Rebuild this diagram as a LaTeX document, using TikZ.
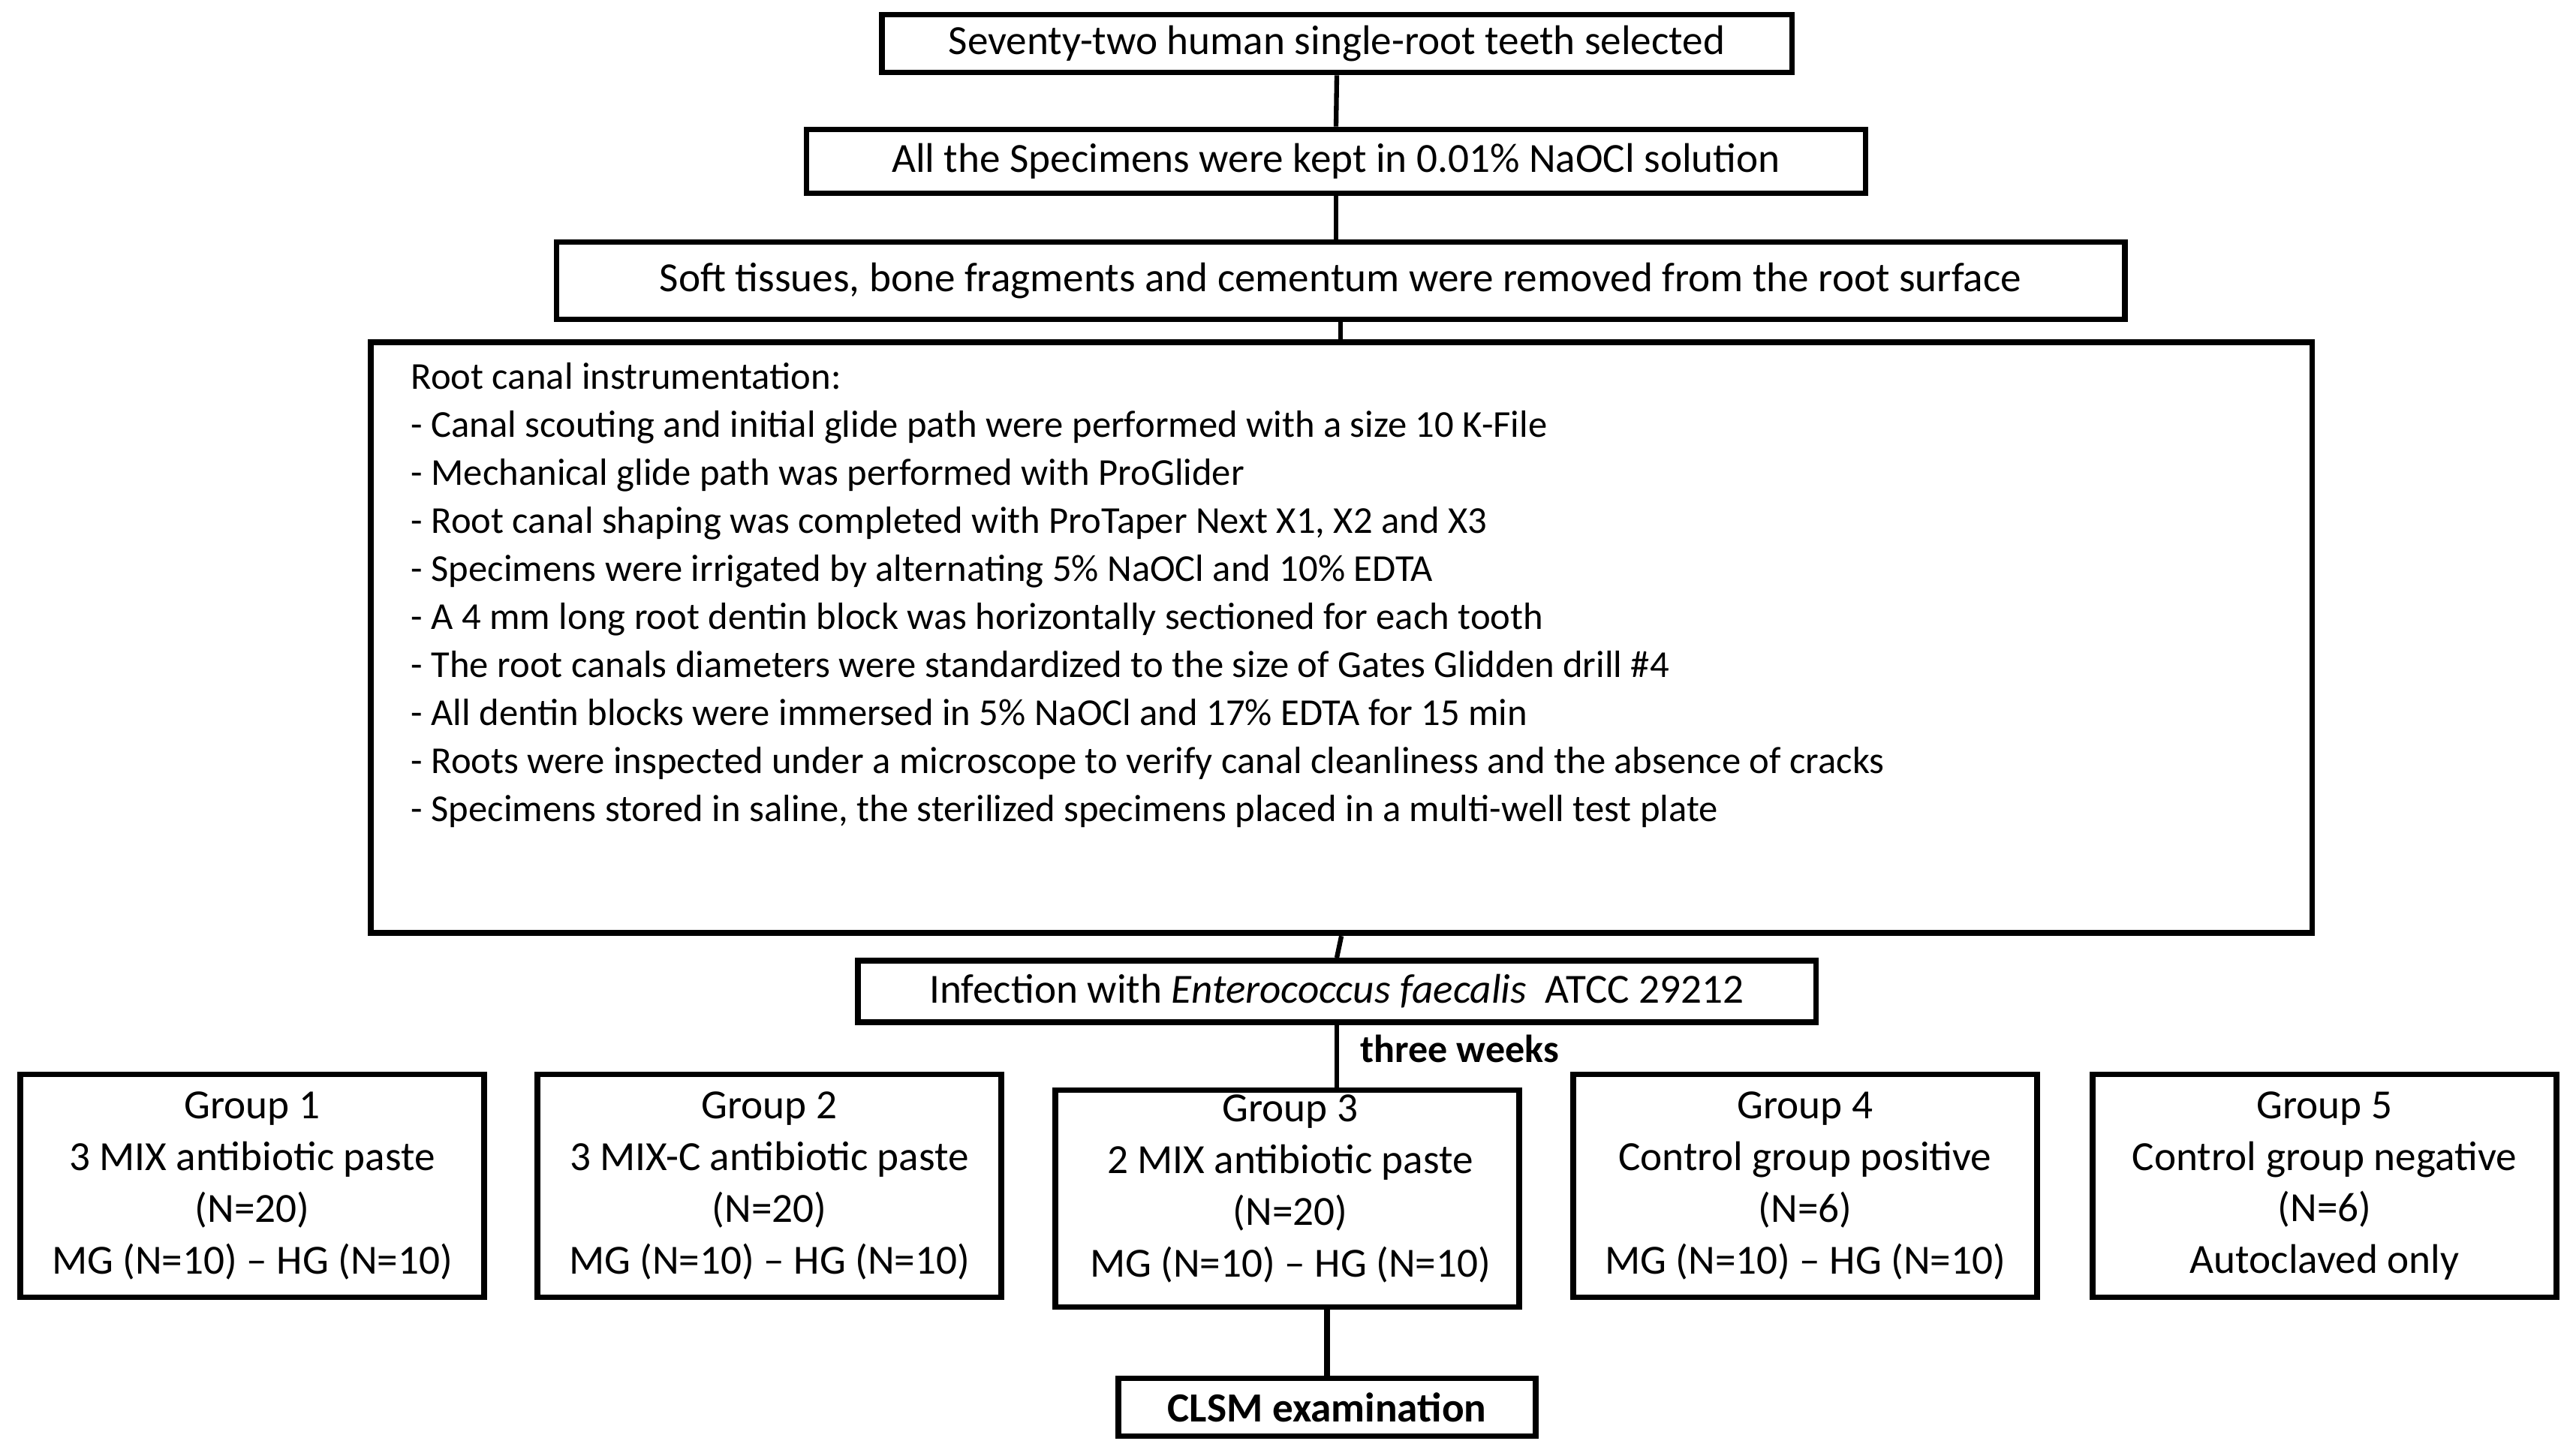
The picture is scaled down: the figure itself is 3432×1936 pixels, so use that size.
\documentclass[tikz,border=0pt]{standalone}
\usepackage{fontspec}
\setmainfont{Carlito}

\begin{document}
\begin{tikzpicture}[x=0.01cm, y=-0.01cm,
    box/.style={draw, line width=2.2pt, inner sep=0pt, align=center,
      font=\fontsize{15.7}{19.6}\selectfont},
    grp/.style={box, minimum width=6.18cm, minimum height=2.97cm,
      font=\fontsize{15.7}{19.6}\selectfont},
    link/.style={line width=1.8pt}]
  \useasboundingbox (0,0) rectangle (3432,1936);
  % preparation
  \node[box, minimum width=12.12cm, minimum height=0.77cm] (teeth) at (1781,58) {Seventy-two human single-root teeth selected};
  \node[box, minimum width=14.10cm, minimum height=0.85cm] (kept) at (1780,215) {All the Specimens were kept in 0.01\% NaOCl solution};
  \node[box, minimum width=20.88cm, minimum height=1.03cm] (soft) at (1786,374) {Soft tissues, bone fragments and cementum were removed from the root surface};
  \node[box, minimum width=25.85cm, minimum height=7.87cm, anchor=north west] (instr) at (490,452) {};
  \node[anchor=north west, inner sep=0pt, align=left, font=\fontsize{14.4}{18.2}\selectfont] (steps) at (547,483) {Root canal instrumentation:\\
    - Canal scouting and initial glide path were performed with a size 10 K-File\\
    - Mechanical glide path was performed with ProGlider\\
    - Root canal shaping was completed with ProTaper Next X1, X2 and X3\\
    - Specimens were irrigated by alternating 5\% NaOCl and 10\% EDTA\\
    - A 4 mm long root dentin block was horizontally sectioned for each tooth\\
    - The root canals diameters were standardized to the size of Gates Glidden drill \#4\\
    - All dentin blocks were immersed in 5\% NaOCl and 17\% EDTA for 15 min\\
    - Roots were inspected under a microscope to verify canal cleanliness and the absence of cracks\\
    - Specimens stored in saline, the sterilized specimens placed in a multi-well test plate};
  \node[box, minimum width=12.76cm, minimum height=0.82cm] (infect) at (1781,1321) {Infection with \textit{Enterococcus faecalis}\ \ ATCC 29212};
  \node[anchor=west, inner sep=0pt, font=\fontsize{14.8}{18.4}\selectfont\bfseries] (weeks) at (1812,1397) {three weeks};
  % groups
  \node[grp] (g1) at (336,1580) {Group 1\\3 MIX antibiotic paste\\(N=20)\\MG (N=10) – HG (N=10)};
  \node[grp] (g2) at (1025,1580) {Group 2\\3 MIX-C antibiotic paste\\(N=20)\\MG (N=10) – HG (N=10)};
  \node[grp, minimum height=2.89cm] (g3) at (1715,1597) {};
  \node[align=center, inner sep=0pt, font=\fontsize{15.7}{19.6}\selectfont] (g3text) at (1719,1584) {Group 3\\2 MIX antibiotic paste\\(N=20)\\MG (N=10) – HG (N=10)};
  \node[grp] (g4) at (2405,1580) {Group 4\\Control group positive\\(N=6)\\MG (N=10) – HG (N=10)};
  \node[grp] (g5) at (3097,1580) {Group 5\\Control group negative\\(N=6)\\Autoclaved only};
  \node[box, minimum width=5.55cm, minimum height=0.77cm, font=\fontsize{15.7}{19.6}\selectfont\bfseries] (clsm) at (1768,1875) {CLSM examination};
  % connectors
  \draw[link] (teeth.south) -- (kept.north);
  \draw[link] (kept.south) -- (kept.south |- soft.north);
  \draw[link] (soft.south) -- (soft.south |- instr.north);
  \draw[link] (instr.south) -- (infect.north);
  \draw[link] (infect.south) -- (infect.south |- g3.north);
  \draw[link, line width=2.2pt] (clsm.north |- g3.south) -- (clsm.north);
\end{tikzpicture}
\end{document}
